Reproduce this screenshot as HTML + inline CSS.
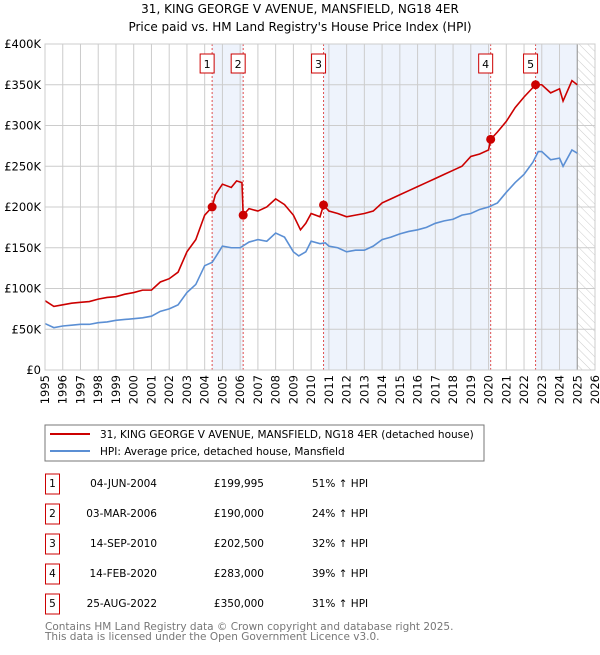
<!DOCTYPE html>
<html><head><meta charset="utf-8"><style>
body{margin:0;background:#fff;font-family:"Liberation Sans","DejaVu Sans",sans-serif;}
svg text{font-family:"DejaVu Sans","Liberation Sans",sans-serif;}
</style></head><body>
<svg id="c" width="600" height="650" viewBox="0 0 600 650" xmlns="http://www.w3.org/2000/svg">
<defs><pattern id="hatch" width="6" height="6" patternUnits="userSpaceOnUse" patternTransform="rotate(-45)"><line x1="0" y1="0" x2="0" y2="6" stroke="#ccc" stroke-width="1"/></pattern></defs>
<text x="300" y="13" text-anchor="middle" font-size="12">31, KING GEORGE V AVENUE, MANSFIELD, NG18 4ER</text>
<text x="300" y="31" text-anchor="middle" font-size="12">Price paid vs. HM Land Registry's House Price Index (HPI)</text>
<g id="plot"></g>
<rect x="45" y="425" width="439" height="36" fill="#fff" stroke="#777"/>
<line x1="50" y1="434" x2="90" y2="434" stroke="#cc0000" stroke-width="2"/>
<text x="100" y="438" font-size="10.5">31, KING GEORGE V AVENUE, MANSFIELD, NG18 4ER (detached house)</text>
<line x1="50" y1="451" x2="90" y2="451" stroke="#5b8fd4" stroke-width="2"/>
<text x="100" y="455" font-size="10.5">HPI: Average price, detached house, Mansfield</text>
<g id="table" font-size="10.5"></g>
<text x="45" y="630" font-size="10.5" fill="#777">Contains HM Land Registry data © Crown copyright and database right 2025.</text>
<text x="45" y="640" font-size="10.5" fill="#777">This data is licensed under the Open Government Licence v3.0.</text>
</svg>
<script>
const hpiYears=[1995,1995.5,1996,1996.5,1997,1997.5,1998,1998.5,1999,1999.5,2000,2000.5,2001,2001.5,2002,2002.5,2003,2003.5,2004,2004.42,2004.8,2005,2005.5,2006,2006.5,2007,2007.5,2008,2008.5,2009,2009.3,2009.7,2010,2010.5,2010.8,2011,2011.5,2012,2012.5,2013,2013.5,2014,2014.5,2015,2015.5,2016,2016.5,2017,2017.5,2018,2018.5,2019,2019.5,2020,2020.5,2021,2021.5,2022,2022.5,2022.8,2023,2023.5,2024,2024.2,2024.7,2025];
const hpiValues=[57,52,54,55,56,56,58,59,61,62,63,64,66,72,75,80,95,105,128,132,145,152,150,150,157,160,158,168,163,145,140,145,158,155,156,152,150,145,147,147,152,160,163,167,170,172,175,180,183,185,190,192,197,200,205,218,230,240,255,268,268,258,260,250,270,266];
const redYears=[1995,1995.5,1996,1996.5,1997,1997.5,1998,1998.5,1999,1999.5,2000,2000.5,2001,2001.5,2002,2002.5,2003,2003.5,2004,2004.42,2004.6,2005,2005.5,2005.8,2006.1,2006.17,2006.5,2007,2007.5,2008,2008.5,2009,2009.4,2009.7,2010,2010.5,2010.7,2011,2011.5,2012,2012.5,2013,2013.5,2014,2014.5,2015,2015.5,2016,2016.5,2017,2017.5,2018,2018.5,2019,2019.5,2020,2020.12,2020.5,2021,2021.5,2022,2022.65,2023,2023.5,2024,2024.2,2024.7,2025];
const redValues=[85,78,80,82,83,84,87,89,90,93,95,98,98,108,112,120,145,160,190,200,215,228,224,232,230,190,198,195,200,210,203,190,172,180,192,188,202.5,195,192,188,190,192,195,205,210,215,220,225,230,235,240,245,250,262,265,270,283,292,305,322,335,350,350,340,345,330,355,350];
const saleYears=[2004.42,2006.17,2010.7,2020.12,2022.65];
const saleValues=[199995,190000,202500,283000,350000];
const saleLabels=["1","2","3","4","5"];
const saleDates=["04-JUN-2004","03-MAR-2006","14-SEP-2010","14-FEB-2020","25-AUG-2022"];
const salePrices=["£199,995","£190,000","£202,500","£283,000","£350,000"];
const salePct=["51% ↑ HPI","24% ↑ HPI","32% ↑ HPI","39% ↑ HPI","31% ↑ HPI"];
const yTicks=[0,50,100,150,200,250,300,350,400];
const yTickLabels=["£0","£50K","£100K","£150K","£200K","£250K","£300K","£350K","£400K"];
const xTicks=[1995,1996,1997,1998,1999,2000,2001,2002,2003,2004,2005,2006,2007,2008,2009,2010,2011,2012,2013,2014,2015,2016,2017,2018,2019,2020,2021,2022,2023,2024,2025,2026];
const X0=45,X1=595,Y0=370,Y1=44;
const sx=y=>X0+(y-1995)/(2026-1995)*(X1-X0);
const sy=v=>Y0-v/400*(Y0-Y1);
const NS="http://www.w3.org/2000/svg";
const plot=document.getElementById('plot');
function mk(tag,attrs,parent){const e=document.createElementNS(NS,tag);for(const k in attrs)e.setAttribute(k,attrs[k]);(parent||plot).appendChild(e);return e;}
// shading
const bands=[[0,1],[2,3],[4,null]];
bands.forEach((b,i)=>{const xa=sx(saleYears[b[0]]);const xb=b[1]===null?sx(2025):sx(saleYears[b[1]]);
const r=mk('rect',{x:xa,y:Y1,width:xb-xa,height:Y0-Y1,fill:'#eef3fc'});

});
const h=mk('rect',{x:sx(2025),y:Y1,width:X1-sx(2025),height:Y0-Y1,fill:'url(#hatch)'});


// grid
yTicks.forEach((t,i)=>{const l=mk('line',{x1:X0,x2:X1,y1:sy(t),y2:sy(t),stroke:'#ccc'});


const tx=mk('text',{x:X0-4,y:sy(t)+4,'text-anchor':'end','font-size':'11.5'});tx.textContent=yTickLabels[i];

});
xTicks.forEach(t=>{const l=mk('line',{x1:sx(t),x2:sx(t),y1:Y1,y2:Y0,stroke:'#ccc'});


const tx=mk('text',{x:0,y:0,'text-anchor':'end','font-size':'11.5',transform:`translate(${sx(t)+4},${Y0+5}) rotate(-90)`});tx.textContent=t;

});
const vl=mk('line',{x1:sx(2025),x2:sx(2025),y1:Y1,y2:Y0,stroke:'#999'});


// sale markers lines
saleYears.forEach((y,i)=>{const l=mk('line',{x1:sx(y),x2:sx(y),y1:Y1,y2:Y0,stroke:'#e05050','stroke-dasharray':'2,2'});


const bx=mk('rect',{x:sx(y)-12,y:54,width:14,height:19,fill:'#fff',stroke:'#cc0000'});


const tx=mk('text',{x:sx(y)-5,y:68,'text-anchor':'middle','font-size':'11'});tx.textContent=saleLabels[i];

});
const hp=mk('polyline',{points:hpiYears.map((y,i)=>sx(y)+','+sy(hpiValues[i])).join(' '),fill:'none',stroke:'#5b8fd4','stroke-width':1.6});


const rp=mk('polyline',{points:redYears.map((y,i)=>sx(y)+','+sy(redValues[i])).join(' '),fill:'none',stroke:'#cc0000','stroke-width':1.6});


saleYears.forEach((y,i)=>{const c=mk('circle',{cx:sx(y),cy:sy(saleValues[i]/1000),r:4.5,fill:'#cc0000'});

});
const ax=mk('rect',{x:X0,y:Y1,width:X1-X0,height:Y0-Y1,fill:'none',stroke:'#ccc'});


// table
const tb=document.getElementById('table');
saleLabels.forEach((s,i)=>{const cy=483+i*30;
const b=mk('rect',{x:45.5,y:cy-9,width:14,height:20,fill:'#fff',stroke:'#cc0000'},tb);


const t0=mk('text',{x:52.5,y:cy+4,'text-anchor':'middle'},tb);t0.textContent=s;


const t1=mk('text',{x:157,y:cy+4,'text-anchor':'end'},tb);t1.textContent=saleDates[i];


const t2=mk('text',{x:264,y:cy+4,'text-anchor':'end'},tb);t2.textContent=salePrices[i];


const t3=mk('text',{x:312,y:cy+4},tb);t3.textContent=salePct[i];

});
</script>
</body></html>
